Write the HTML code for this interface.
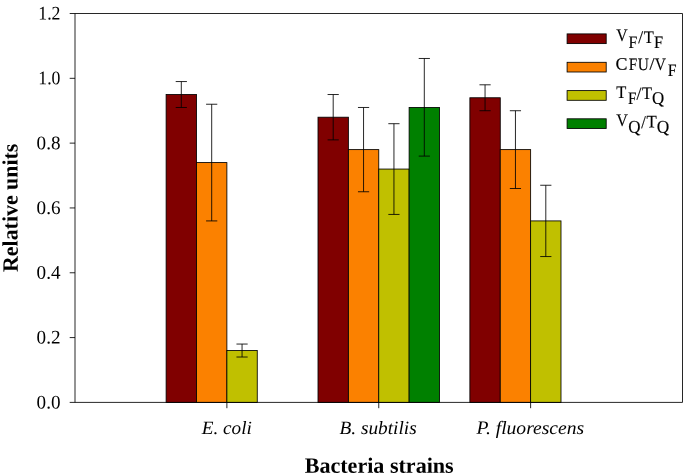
<!DOCTYPE html>
<html><head><meta charset="utf-8"><title>Chart</title>
<style>html,body{margin:0;padding:0;background:#fff;overflow:hidden}svg{display:block}text{font-family:"Liberation Serif","Times New Roman",serif;fill:#000}</style>
</head><body>
<svg width="685" height="476" viewBox="0 0 685 476">
<rect x="0" y="0" width="685" height="476" fill="#fff"/>
<rect x="166.12" y="94.52" width="30.38" height="307.88" fill="#800000" stroke="#000" stroke-width="0.85"/>
<rect x="196.50" y="162.58" width="30.38" height="239.82" fill="#fb8100" stroke="#000" stroke-width="0.85"/>
<rect x="226.88" y="350.55" width="30.38" height="51.85" fill="#c0c000" stroke="#000" stroke-width="0.85"/>
<rect x="318.00" y="117.21" width="30.38" height="285.19" fill="#800000" stroke="#000" stroke-width="0.85"/>
<rect x="348.38" y="149.61" width="30.38" height="252.78" fill="#fb8100" stroke="#000" stroke-width="0.85"/>
<rect x="378.75" y="169.06" width="30.38" height="233.34" fill="#c0c000" stroke="#000" stroke-width="0.85"/>
<rect x="409.12" y="107.48" width="30.38" height="294.92" fill="#008000" stroke="#000" stroke-width="0.85"/>
<rect x="469.88" y="97.76" width="30.38" height="304.64" fill="#800000" stroke="#000" stroke-width="0.85"/>
<rect x="500.25" y="149.61" width="30.38" height="252.78" fill="#fb8100" stroke="#000" stroke-width="0.85"/>
<rect x="530.62" y="220.91" width="30.38" height="181.49" fill="#c0c000" stroke="#000" stroke-width="0.85"/>
<path d="M181.31 81.56V107.48M175.71 81.56H186.91M175.71 107.48H186.91" stroke="#000" stroke-width="0.85" fill="none"/>
<path d="M211.69 104.24V220.91M206.09 104.24H217.29M206.09 220.91H217.29" stroke="#000" stroke-width="0.85" fill="none"/>
<path d="M242.06 344.06V357.03M236.46 344.06H247.66M236.46 357.03H247.66" stroke="#000" stroke-width="0.85" fill="none"/>
<path d="M333.19 94.52V139.89M327.59 94.52H338.79M327.59 139.89H338.79" stroke="#000" stroke-width="0.85" fill="none"/>
<path d="M363.56 107.48V191.75M357.96 107.48H369.16M357.96 191.75H369.16" stroke="#000" stroke-width="0.85" fill="none"/>
<path d="M393.94 123.69V214.43M388.34 123.69H399.54M388.34 214.43H399.54" stroke="#000" stroke-width="0.85" fill="none"/>
<path d="M424.31 58.47V156.10M418.71 58.47H429.91M418.71 156.10H429.91" stroke="#000" stroke-width="0.85" fill="none"/>
<path d="M485.06 84.80V110.73M479.46 84.80H490.66M479.46 110.73H490.66" stroke="#000" stroke-width="0.85" fill="none"/>
<path d="M515.44 110.72V188.50M509.84 110.72H521.04M509.84 188.50H521.04" stroke="#000" stroke-width="0.85" fill="none"/>
<path d="M545.81 185.26V256.56M540.21 185.26H551.41M540.21 256.56H551.41" stroke="#000" stroke-width="0.85" fill="none"/>
<path d="M75.0 13.5H682.5V402.4H75.0Z" stroke="#000" stroke-width="0.85" fill="none"/>
<path d="M69.7 402.4H75.0" stroke="#000" stroke-width="0.85"/>
<text transform="translate(60.5 408.45) rotate(0.03) scale(0.993 1)" font-size="19.3" text-anchor="end">0.0</text>
<path d="M69.7 337.58H75.0" stroke="#000" stroke-width="0.85"/>
<text transform="translate(60.5 343.63) rotate(0.03) scale(0.993 1)" font-size="19.3" text-anchor="end">0.2</text>
<path d="M69.7 272.77H75.0" stroke="#000" stroke-width="0.85"/>
<text transform="translate(60.5 278.82) rotate(0.03) scale(0.993 1)" font-size="19.3" text-anchor="end">0.4</text>
<path d="M69.7 207.95H75.0" stroke="#000" stroke-width="0.85"/>
<text transform="translate(60.5 214.0) rotate(0.03) scale(0.993 1)" font-size="19.3" text-anchor="end">0.6</text>
<path d="M69.7 143.13H75.0" stroke="#000" stroke-width="0.85"/>
<text transform="translate(60.5 149.18) rotate(0.03) scale(0.993 1)" font-size="19.3" text-anchor="end">0.8</text>
<path d="M69.7 78.32H75.0" stroke="#000" stroke-width="0.85"/>
<text transform="translate(60.5 84.37) rotate(0.03) scale(0.92 1)" font-size="19.3" text-anchor="end">1.0</text>
<path d="M69.7 13.5H75.0" stroke="#000" stroke-width="0.85"/>
<text transform="translate(60.5 19.55) rotate(0.03) scale(0.92 1)" font-size="19.3" text-anchor="end">1.2</text>
<path d="M226.88 402.4V408.2" stroke="#000" stroke-width="0.85"/>
<text transform="translate(226.8 433.9) rotate(0.03) scale(1.026 1)" font-size="18.7" text-anchor="middle" font-style="italic">E. coli</text>
<path d="M378.75 402.4V408.2" stroke="#000" stroke-width="0.85"/>
<text transform="translate(378.1 433.9) rotate(0.03) scale(1.032 1)" font-size="18.7" text-anchor="middle" font-style="italic">B. subtilis</text>
<path d="M530.62 402.4V408.2" stroke="#000" stroke-width="0.85"/>
<text transform="translate(530.3 433.9) rotate(0.03) scale(1.048 1)" font-size="18.7" text-anchor="middle" font-style="italic">P. fluorescens</text>
<text transform="translate(379.2 472.8) rotate(0.03) scale(1.009 1)" font-size="21.9" text-anchor="middle" font-weight="bold">Bacteria strains</text>
<text transform="translate(17.6 207.8) rotate(-90.03)" font-size="21.9" font-weight="bold" text-anchor="middle">Relative units</text>
<rect x="567.1" y="33.9" width="39.1" height="9.7" fill="#800000" stroke="#000" stroke-width="0.85"/>
<rect x="567.1" y="62.3" width="39.1" height="9.7" fill="#fb8100" stroke="#000" stroke-width="0.85"/>
<rect x="567.1" y="90.6" width="39.1" height="9.7" fill="#c0c000" stroke="#000" stroke-width="0.85"/>
<rect x="567.1" y="118.8" width="39.1" height="9.7" fill="#008000" stroke="#000" stroke-width="0.85"/>
<text transform="rotate(0.03 616.0 41.3)" stroke="#000" stroke-width="0.15"><tspan x="616.19" y="41.30" font-size="17.7" textLength="11.39" lengthAdjust="spacingAndGlyphs">V</tspan><tspan x="628.63" y="47.90" font-size="17.5" textLength="8.79" lengthAdjust="spacingAndGlyphs">F</tspan><tspan x="638.35" y="42.90" font-size="17.7" textLength="4.86" lengthAdjust="spacingAndGlyphs">/</tspan><tspan x="643.69" y="42.90" font-size="17.7" textLength="10.04" lengthAdjust="spacingAndGlyphs">T</tspan><tspan x="654.12" y="48.00" font-size="17.5" textLength="9.12" lengthAdjust="spacingAndGlyphs">F</tspan></text>
<text transform="rotate(0.03 616.0 69.6)" stroke="#000" stroke-width="0.15"><tspan x="615.63" y="69.60" font-size="17.4" textLength="11.96" lengthAdjust="spacingAndGlyphs">C</tspan><tspan x="628.65" y="69.60" font-size="17.4" textLength="8.45" lengthAdjust="spacingAndGlyphs">F</tspan><tspan x="637.64" y="69.60" font-size="17.4" textLength="11.09" lengthAdjust="spacingAndGlyphs">U</tspan><tspan x="649.55" y="69.60" font-size="17.4" textLength="5.06" lengthAdjust="spacingAndGlyphs">/</tspan><tspan x="654.70" y="69.50" font-size="17.4" textLength="11.19" lengthAdjust="spacingAndGlyphs">V</tspan><tspan x="667.73" y="76.10" font-size="17.5" textLength="8.79" lengthAdjust="spacingAndGlyphs">F</tspan></text>
<text transform="rotate(0.03 616.0 97.6)" stroke="#000" stroke-width="0.15"><tspan x="616.19" y="97.60" font-size="17.7" textLength="10.04" lengthAdjust="spacingAndGlyphs">T</tspan><tspan x="627.95" y="104.10" font-size="17.5" textLength="8.45" lengthAdjust="spacingAndGlyphs">F</tspan><tspan x="636.55" y="99.40" font-size="17.7" textLength="4.86" lengthAdjust="spacingAndGlyphs">/</tspan><tspan x="641.99" y="99.40" font-size="17.7" textLength="9.94" lengthAdjust="spacingAndGlyphs">T</tspan><tspan x="652.08" y="103.70" font-size="17.5" textLength="12.18" lengthAdjust="spacingAndGlyphs">Q</tspan></text>
<text transform="rotate(0.03 616.0 126.2)" stroke="#000" stroke-width="0.15"><tspan x="616.19" y="126.20" font-size="17.7" textLength="11.70" lengthAdjust="spacingAndGlyphs">V</tspan><tspan x="628.27" y="132.40" font-size="17.5" textLength="12.29" lengthAdjust="spacingAndGlyphs">Q</tspan><tspan x="641.35" y="127.60" font-size="17.7" textLength="4.56" lengthAdjust="spacingAndGlyphs">/</tspan><tspan x="646.48" y="127.60" font-size="17.7" textLength="10.25" lengthAdjust="spacingAndGlyphs">T</tspan><tspan x="656.76" y="132.60" font-size="17.5" textLength="12.50" lengthAdjust="spacingAndGlyphs">Q</tspan></text>
</svg>
</body></html>
